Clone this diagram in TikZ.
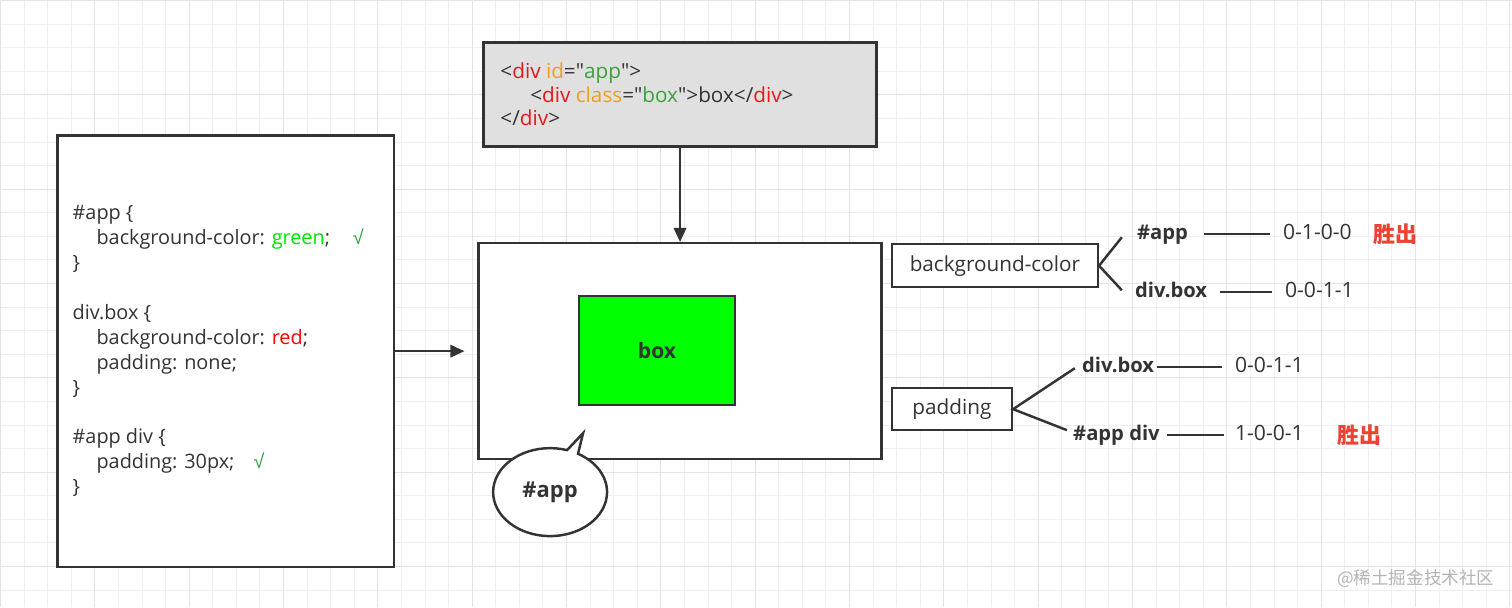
\documentclass[tikz,border=0pt]{standalone}
\usepackage{fontspec}
\setmainfont{Open Sans}
\newfontfamily\codefont{Open Sans}
\newfontfamily\cjk{Noto Sans CJK SC}
\newfontfamily\tickfont{Liberation Sans}
\usetikzlibrary{positioning,arrows.meta,shapes.callouts}

\definecolor{ink}{HTML}{333333}
\definecolor{gridline}{HTML}{EFEFEF}
\definecolor{gridbold}{HTML}{E4E4E4}
\definecolor{codebg}{HTML}{E0E0E0}
\definecolor{tagred}{HTML}{E61919}
\definecolor{attrorange}{HTML}{F29C1F}
\definecolor{strgreen}{HTML}{3F9F3F}
\definecolor{boxgreen}{HTML}{00FF00}
\definecolor{kwgreen}{HTML}{00E600}
\definecolor{kwred}{HTML}{FF0000}
\definecolor{tickgreen}{HTML}{2F9F3F}
\definecolor{winred}{HTML}{EE4234}
\definecolor{wmgray}{HTML}{B4B4B4}

\newcommand{\htag}[1]{\textcolor{tagred}{#1}}
\newcommand{\hattr}[1]{\textcolor{attrorange}{#1}}
\newcommand{\hstr}[1]{\textcolor{strgreen}{#1}}
\newcommand{\okmark}{\textcolor{tickgreen}{\tickfont √}}

\begin{document}
\begin{tikzpicture}[x=0.02cm, y=0.02cm,
    box/.style={draw=ink, line width=1.4pt, fill=white},
    link/.style={draw=ink, line width=1.4pt},
    arr/.style={link, -{Triangle[length=8pt,width=7pt]}},
    sel/.style={font=\fontsize{11.5}{13}\selectfont\bfseries, text=ink,
        inner sep=0pt, text height=9pt, text depth=3pt, anchor=west},
    spec/.style={font=\fontsize{12}{13}\selectfont, text=ink,
        inner sep=0pt, text height=9pt, text depth=3pt, anchor=west},
    win/.style={font=\cjk\fontsize{12.5}{14}\selectfont\bfseries, text=winred,
        inner sep=0pt, anchor=west}]
    % paper with grid
    \fill[white] (0,0) rectangle (1512,-607);
    \draw[gridline, step=0.472cm] (0,-607) grid (1512,0);
    \draw[gridbold, step=1.888cm] (0,-607) grid (1512,0);
    \useasboundingbox (0,0) rectangle (1512,-607);

    % css rules
    \node[box, minimum width=6.74cm, minimum height=8.64cm] (css) at (225.5,-351) {};
    \node[anchor=west, align=left, inner sep=0pt, text=ink,
        font=\fontsize{11.3}{14.2}\selectfont] (rules) at (72,-351) {%
        \#app \{\\
        \hspace*{13.6pt}background-color: \textcolor{kwgreen}{green};\hspace{13pt}\okmark\\
        \}\\[14.2pt]
        div.box \{\\
        \hspace*{13.6pt}background-color: \textcolor{kwred}{red};\\
        \hspace*{13.6pt}padding: none;\\
        \}\\[14.2pt]
        \#app div \{\\
        \hspace*{13.6pt}padding: 30px;\hspace{11pt}\okmark\\
        \}};

    % html markup
    \node[box, fill=codebg, line width=1.7pt, minimum width=7.88cm, minimum height=2.08cm] (html) at (680,-94) {};
    \node[anchor=west, align=left, inner sep=0pt, text=ink,
        font=\codefont\fontsize{11.8}{13.3}\selectfont] (markup) at (500,-94) {%
        <\htag{div} \hattr{id}="\hstr{app}">\\
        \hspace*{17pt}<\htag{div} \hattr{class}="\hstr{box}">box</\htag{div}>\\
        </\htag{div}>};

    % rendered page
    \node[box, minimum width=8.06cm, minimum height=4.32cm] (app) at (680,-351) {};
    \node[box, fill=boxgreen, minimum width=3.12cm, minimum height=2.18cm,
        font=\fontsize{12}{13}\selectfont\bfseries, text=ink] (inner) at (657,-350.5) {box};
    \node[ellipse callout, draw=ink, line width=1.4pt, fill=white,
        minimum width=2.28cm, minimum height=1.76cm,
        callout absolute pointer={(583,-433)}, callout pointer arc=12,
        font=\fontsize{12.5}{14}\selectfont\bfseries, text=ink] (tag) at (550,-492) {\#app};

    \draw[arr] (html.south) -- (app.north);
    \draw[arr, shorten >=0.26cm] (css.east) -- (app.west);

    % specificity
    \node[box, minimum width=4.12cm, minimum height=0.86cm,
        font=\fontsize{11.8}{13}\selectfont, text=ink] (bgc) at (995,-265.5) {background-color};
    \node[box, minimum width=2.4cm, minimum height=0.84cm,
        font=\fontsize{11.8}{13}\selectfont, text=ink] (pad) at (952,-409) {padding};

    \node[sel] (bgA) at (1137,-234) {\#app};
    \node[spec] (bgAv) at (1283,-234) {0-1-0-0};
    \node[win] (bgAw) at (1373,-234) {胜出};
    \node[sel] (bgB) at (1135,-292) {div.box};
    \node[spec] (bgBv) at (1285,-292) {0-0-1-1};

    \node[sel] (padA) at (1082,-367) {div.box};
    \node[spec] (padAv) at (1235,-367) {0-0-1-1};
    \node[sel] (padB) at (1073,-435) {\#app div};
    \node[spec] (padBv) at (1235,-435) {1-0-0-1};
    \node[win] (padBw) at (1337,-435) {胜出};

    \coordinate (bgAend) at (1122,-237);
    \coordinate (bgBend) at (1122,-290);
    \coordinate (padAend) at (1075,-368);
    \coordinate (padBend) at (1067,-430);
    \draw[link] (bgAend) -- (bgc.east) -- (bgBend);
    \draw[link] (padAend) -- (pad.east) -- (padBend);

    \draw[link, shorten <=9pt, shorten >=7.4pt] (bgA.east) -- (bgAv.west);
    \draw[link, shorten <=7.4pt, shorten >=7.4pt] (bgB.east) -- (bgBv.west);
    \draw[link, shorten <=1.7pt, shorten >=7.4pt] (padA.east) -- (padAv.west);
    \draw[link, shorten <=4pt, shorten >=6.2pt] (padB.east) -- (padBv.west);

    \node[font=\cjk\fontsize{10}{12}\selectfont, text=wmgray, anchor=east, inner sep=0pt] (wm) at (1495,-578) {@稀土掘金技术社区};
\end{tikzpicture}
\end{document}
